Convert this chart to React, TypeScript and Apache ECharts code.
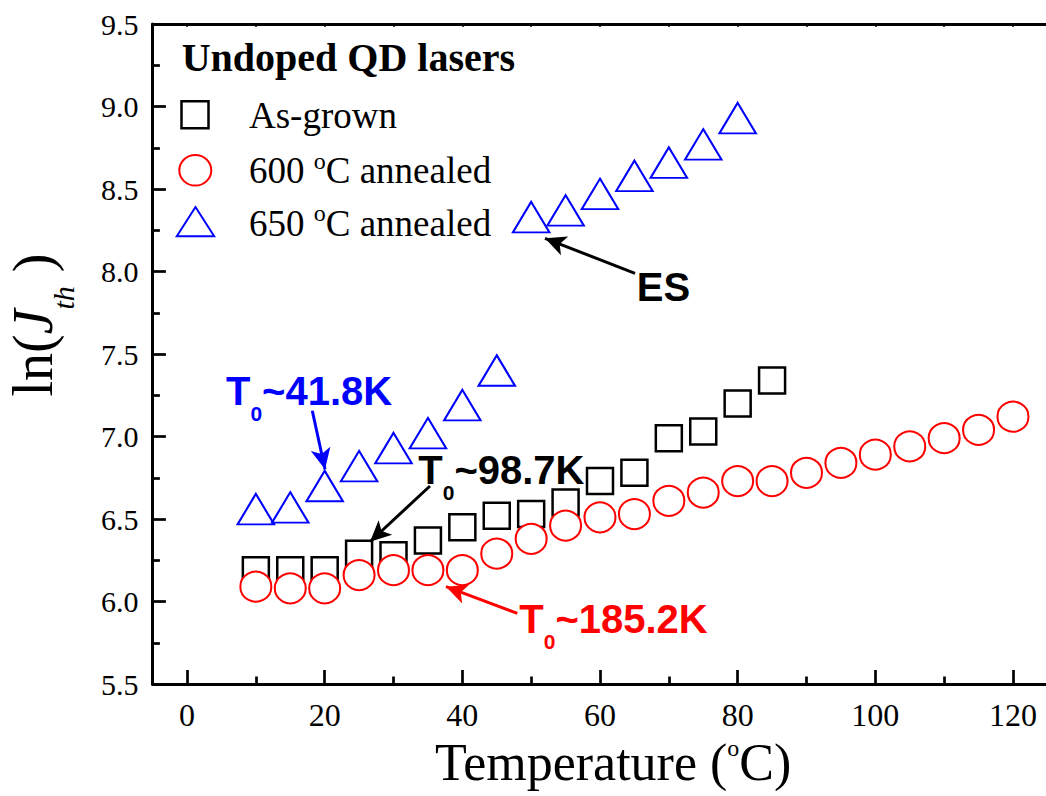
import React, { useEffect, useRef } from "react";
import * as echarts from "echarts";

// ---- data ----
const asGrownT = [10, 15, 20, 25, 30, 35, 40, 45, 50, 55, 60, 65, 70, 75, 80, 85];
const asGrownLnJ = [6.19, 6.19, 6.19, 6.29, 6.28, 6.37, 6.45, 6.52, 6.53, 6.6, 6.73, 6.78, 6.99, 7.03, 7.2, 7.34];

const ann600T = [10, 15, 20, 25, 30, 35, 40, 45, 50, 55, 60, 65, 70, 75, 80, 85, 90, 95, 100, 105, 110, 115, 120];
const ann600LnJ = [6.09, 6.08, 6.08, 6.16, 6.19, 6.19, 6.19, 6.29, 6.38, 6.46, 6.51, 6.53, 6.61, 6.66, 6.73, 6.73, 6.78, 6.84, 6.89, 6.94, 6.99, 7.04, 7.12];

const ann650T = [10, 15, 20, 25, 30, 35, 40, 45, 50, 55, 60, 65, 70, 75, 80];
const ann650LnJ = [6.56, 6.57, 6.7, 6.82, 6.93, 7.02, 7.19, 7.4, 8.33, 8.37, 8.47, 8.58, 8.66, 8.77, 8.93];

const seriesNames = ["As-grown", "600 °C annealed", "650 °C annealed"];

// annotation arrows [tail, tip] in data coordinates
const arrowES = [[65.09, 7.989], [52.01, 8.201]];
const arrowBlue = [[18.2, 7.156], [20.05, 6.801]];
const arrowBlack = [[35.3, 6.7], [26.59, 6.362]];
const arrowRed = [[47.99, 5.928], [37.63, 6.09]];

const SERIF = "'Liberation Serif', 'Times New Roman', serif";
const SANS = "'Liberation Sans', Arial, sans-serif";
const BLACK = "#000000";
const RED = "#ff0000";
const BLUE = "#0000ff";

function pairs(xs: number[], ys: number[]) {
  return xs.map((x, i) => [x, ys[i]]);
}

function t0Label(x: number, y: number, value: string, color: string) {
  return {
    type: "text",
    x,
    y,
    silent: true,
    style: {
      text: `{m|T}{s|0}{m|~${value}}`,
      align: "left",
      verticalAlign: "middle",
      rich: {
        m: { fontFamily: SANS, fontWeight: "bold", fontSize: 40, lineHeight: 66, fill: color },
        s: { fontFamily: SANS, fontWeight: "bold", fontSize: 21, lineHeight: 12, verticalAlign: "bottom", fill: color },
      },
    },
  };
}

function legendText(y: number, main: string, sup?: string, tail?: string) {
  const text = sup ? `{m|${main}}{s|${sup}}{m|${tail}}` : `{m|${main}}`;
  return {
    type: "text",
    x: 249,
    y,
    silent: true,
    style: {
      text,
      align: "left",
      verticalAlign: "middle",
      rich: {
        m: { fontFamily: SERIF, fontSize: 37, lineHeight: 44, fill: BLACK },
        s: { fontFamily: SERIF, fontSize: 24, lineHeight: 15, verticalAlign: "top", fill: BLACK },
      },
    },
  };
}

function arrowItem(a: number[][], color: string) {
  return [
    { coord: a[0], lineStyle: { color, width: 3, type: "solid" }, itemStyle: { color } },
    { coord: a[1], lineStyle: { color, width: 3, type: "solid" }, itemStyle: { color } },
  ];
}

export default function App() {
  const ref = useRef<HTMLDivElement>(null);

  useEffect(() => {
    if (!ref.current) return;
    const chart = echarts.init(ref.current, undefined, { renderer: "svg" });

    const axisLineStyle = { color: BLACK, width: 3 };
    const tickStyle = { color: BLACK, width: 2.7 };

    const option: any = {
      animation: false,
      backgroundColor: "#ffffff",
      grid: [
        { left: 152.6, right: 12.6, top: 24, bottom: 112, containLabel: false },
        { left: 187, right: 47, top: 24, bottom: 112, containLabel: false },
      ],
      xAxis: [
        {
          gridIndex: 0,
          type: "value",
          min: -5,
          max: 125,
          position: "bottom",
          axisLine: { show: true, onZero: false, lineStyle: axisLineStyle },
          axisTick: { show: false },
          axisLabel: { show: false },
          splitLine: { show: false },
        },
        {
          gridIndex: 1,
          type: "value",
          min: 0,
          max: 120,
          interval: 20,
          position: "bottom",
          axisLine: { show: false, onZero: false },
          axisTick: { show: true, inside: true, length: 14, lineStyle: tickStyle },
          minorTick: { show: true, splitNumber: 2, length: 7.5, lineStyle: tickStyle },
          axisLabel: { show: true, fontSize: 32, lineHeight: 24, fontFamily: SERIF, color: BLACK, margin: 19 },
          splitLine: { show: false },
          minorSplitLine: { show: false },
        },
        {
          gridIndex: 0,
          type: "value",
          min: -5,
          max: 125,
          position: "top",
          axisLine: { show: true, onZero: false, lineStyle: axisLineStyle },
          axisTick: { show: false },
          axisLabel: { show: false },
          splitLine: { show: false },
        },
        {
          gridIndex: 1,
          type: "value",
          min: 0,
          max: 120,
          interval: 20,
          position: "top",
          axisLine: { show: false, onZero: false },
          axisTick: { show: true, inside: true, length: 3, lineStyle: { color: BLACK, width: 1.5 } },
          minorTick: { show: true, splitNumber: 2, length: 3, lineStyle: { color: BLACK, width: 1.5 } },
          axisLabel: { show: false },
          splitLine: { show: false },
        },
      ],
      yAxis: [
        {
          gridIndex: 0,
          type: "value",
          min: 5.5,
          max: 9.5,
          interval: 0.5,
          axisLine: { show: true, onZero: false, lineStyle: axisLineStyle },
          axisTick: { show: true, inside: true, length: 13.3, lineStyle: tickStyle },
          minorTick: { show: true, splitNumber: 2, length: 7.3, lineStyle: tickStyle },
          axisLabel: {
            show: true,
            fontSize: 30,
            fontFamily: SERIF,
            color: BLACK,
            margin: 14,
            formatter: (v: number) => v.toFixed(1),
          },
          splitLine: { show: false },
          minorSplitLine: { show: false },
        },
        {
          gridIndex: 1,
          type: "value",
          min: 5.5,
          max: 9.5,
          show: false,
          splitLine: { show: false },
        },
      ],
      series: [
        {
          name: seriesNames[0],
          type: "scatter",
          xAxisIndex: 0,
          yAxisIndex: 0,
          symbol: "rect",
          symbolSize: 26,
          itemStyle: { color: "#ffffff", borderColor: BLACK, borderWidth: 2.5, opacity: 1 },
          emphasis: { disabled: true },
          data: pairs(asGrownT, asGrownLnJ),
          z: 2,
          markLine: {
            silent: true,
            symbol: ["none", "arrow"],
            symbolSize: [15, 21],
            label: { show: false },
            emphasis: { disabled: true },
            lineStyle: { width: 3, type: "solid", color: BLACK },
            data: [
              arrowItem(arrowES, BLACK),
              arrowItem(arrowBlue, BLUE),
              arrowItem(arrowBlack, BLACK),
              arrowItem(arrowRed, RED),
            ],
          },
        },
        {
          name: seriesNames[1],
          type: "scatter",
          xAxisIndex: 0,
          yAxisIndex: 0,
          symbol: "circle",
          symbolSize: [31, 30],
          itemStyle: { color: "#ffffff", borderColor: RED, borderWidth: 2, opacity: 1 },
          emphasis: { disabled: true },
          data: pairs(ann600T, ann600LnJ),
          z: 3,
        },
        {
          name: seriesNames[2],
          type: "scatter",
          xAxisIndex: 0,
          yAxisIndex: 0,
          symbol: "triangle",
          symbolSize: [36.5, 30.5],
          itemStyle: { color: "#ffffff", borderColor: BLUE, borderWidth: 2, opacity: 1 },
          emphasis: { disabled: true },
          data: pairs(ann650T, ann650LnJ),
          z: 4,
        },
      ],
      graphic: [
        // legend block
        {
          type: "text",
          x: 181.7,
          y: 57.5,
          silent: true,
          style: {
            text: "Undoped QD lasers",
            fontFamily: SERIF,
            fontWeight: "bold",
            fontSize: 40,
            fill: BLACK,
            align: "left",
            verticalAlign: "middle",
          },
        },
        {
          type: "rect",
          silent: true,
          shape: { x: 181.5, y: 101.2, width: 27, height: 27 },
          style: { fill: "#ffffff", stroke: BLACK, lineWidth: 2.5 },
        },
        {
          type: "ellipse",
          silent: true,
          shape: { cx: 195.3, cy: 170.3, rx: 16, ry: 15.3 },
          style: { fill: "#ffffff", stroke: RED, lineWidth: 2 },
        },
        {
          type: "polygon",
          silent: true,
          shape: { points: [[195.5, 207], [176.8, 236.3], [214.2, 236.3]] },
          style: { fill: "#ffffff", stroke: BLUE, lineWidth: 2 },
        },
        legendText(115, "As-grown"),
        legendText(170.8, "600 ", "o", "C annealed"),
        legendText(223.3, "650 ", "o", "C annealed"),
        // annotations
        {
          type: "text",
          x: 636.7,
          y: 286.7,
          silent: true,
          style: {
            text: "ES",
            fontFamily: SANS,
            fontWeight: "bold",
            fontSize: 40,
            fill: BLACK,
            align: "left",
            verticalAlign: "middle",
          },
        },
        t0Label(226, 391.3, "41.8K", BLUE),
        t0Label(418.3, 469.5, "98.7K", BLACK),
        t0Label(519.3, 619, "185.2K", RED),
        // axis titles
        {
          type: "text",
          x: 435,
          y: 762,
          silent: true,
          style: {
            text: "{m|Temperature (}{s|o}{m|C)}",
            align: "left",
            verticalAlign: "middle",
            rich: {
              m: { fontFamily: SERIF, fontSize: 52, lineHeight: 52, fill: BLACK },
              s: { fontFamily: SERIF, fontSize: 24, lineHeight: 12, verticalAlign: "top", fill: BLACK },
            },
          },
        },
        {
          type: "text",
          x: 33,
          y: 325,
          rotation: Math.PI / 2,
          silent: true,
          style: {
            text: "{m|ln(}{i|J}{s|th}{m| )}",
            align: "center",
            verticalAlign: "middle",
            rich: {
              m: { fontFamily: SERIF, fontSize: 56, lineHeight: 90, fill: BLACK },
              i: { fontFamily: SERIF, fontStyle: "italic", fontSize: 56, lineHeight: 90, fill: BLACK },
              s: { fontFamily: SERIF, fontStyle: "italic", fontSize: 30, lineHeight: 6, verticalAlign: "bottom", fill: BLACK },
            },
          },
        },
      ],
    };

    chart.setOption(option);
    return () => {
      chart.dispose();
    };
  }, []);

  return (
    <div
      style={{
        position: "absolute",
        left: 0,
        top: 0,
        width: 1046,
        height: 796,
        overflow: "hidden",
        background: "#ffffff",
      }}
    >
      <div ref={ref} style={{ width: 1060, height: 796 }} />
    </div>
  );
}
